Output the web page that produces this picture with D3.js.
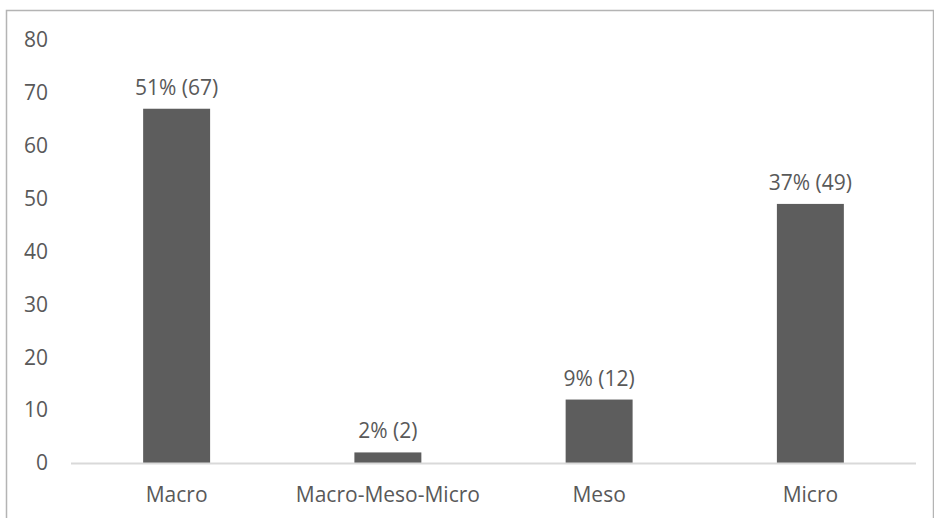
<!DOCTYPE html>
<html>
<head>
<meta charset="utf-8">
<script src="https://cdn.jsdelivr.net/npm/d3@7"></script>
<style>
  body { margin: 0; background: #fff; }
  text { font-family: "Open Sans", "Liberation Sans", sans-serif; fill: #595959; }
</style>
</head>
<body>
<div id="chart"></div>
<script>
// data
var categories = ['Macro', 'Macro-Meso-Micro', 'Meso', 'Micro'];
var counts = [67, 2, 12, 49];
var pctLabels = ['51%', '2%', '9%', '37%'];
var yTicks = [0, 10, 20, 30, 40, 50, 60, 70, 80];

var width = 934, height = 518;
var plotLeft = 71, plotRight = 916, plotTop = 40, baseY = 463;
var fontSize = 21;

var svg = d3.select('#chart').append('svg')
  .attr('width', width)
  .attr('height', height);

// outer chart frame
svg.append('rect')
  .attr('x', 6.5).attr('y', 10.5)
  .attr('width', 927).attr('height', 530)
  .style('fill', 'none')
  .style('stroke', '#b4b4b4')
  .style('stroke-width', 1.5);

var x = d3.scaleBand().domain(categories).range([plotLeft, plotRight]).paddingInner(0.683).paddingOuter(0.3415);
var y = d3.scaleLinear().domain([0, 80]).range([baseY, plotTop]);

// y tick labels (no axis line, no gridlines)
svg.append('g').selectAll('text')
  .data(yTicks).enter().append('text')
  .attr('x', 48)
  .attr('y', function(d) { return y(d); })
  .attr('dy', '0.35em')
  .attr('text-anchor', 'end')
  .style('font-size', fontSize + 'px')
  .text(function(d) { return d; });

// bars
svg.append('g').selectAll('rect')
  .data(categories).enter().append('rect')
  .attr('x', function(d) { return x(d); })
  .attr('y', function(d, i) { return y(counts[i]); })
  .attr('width', x.bandwidth())
  .attr('height', function(d, i) { return baseY - y(counts[i]); })
  .style('fill', '#5d5d5d');

// baseline
svg.append('line')
  .attr('x1', plotLeft).attr('x2', plotRight)
  .attr('y1', baseY + 0.5).attr('y2', baseY + 0.5)
  .style('stroke', '#d9d9d9')
  .style('stroke-width', 2);

// data labels
svg.append('g').selectAll('text')
  .data(categories).enter().append('text')
  .attr('x', function(d) { return x(d) + x.bandwidth() / 2; })
  .attr('y', function(d, i) { return y(counts[i]) - 14; })
  .attr('text-anchor', 'middle')
  .style('font-size', fontSize + 'px')
  .text(function(d, i) { return pctLabels[i] + ' (' + counts[i] + ')'; });

// category labels
svg.append('g').selectAll('text')
  .data(categories).enter().append('text')
  .attr('x', function(d) { return x(d) + x.bandwidth() / 2; })
  .attr('y', 502)
  .attr('text-anchor', 'middle')
  .style('font-size', fontSize + 'px')
  .text(function(d) { return d; });
</script>
</body>
</html>
